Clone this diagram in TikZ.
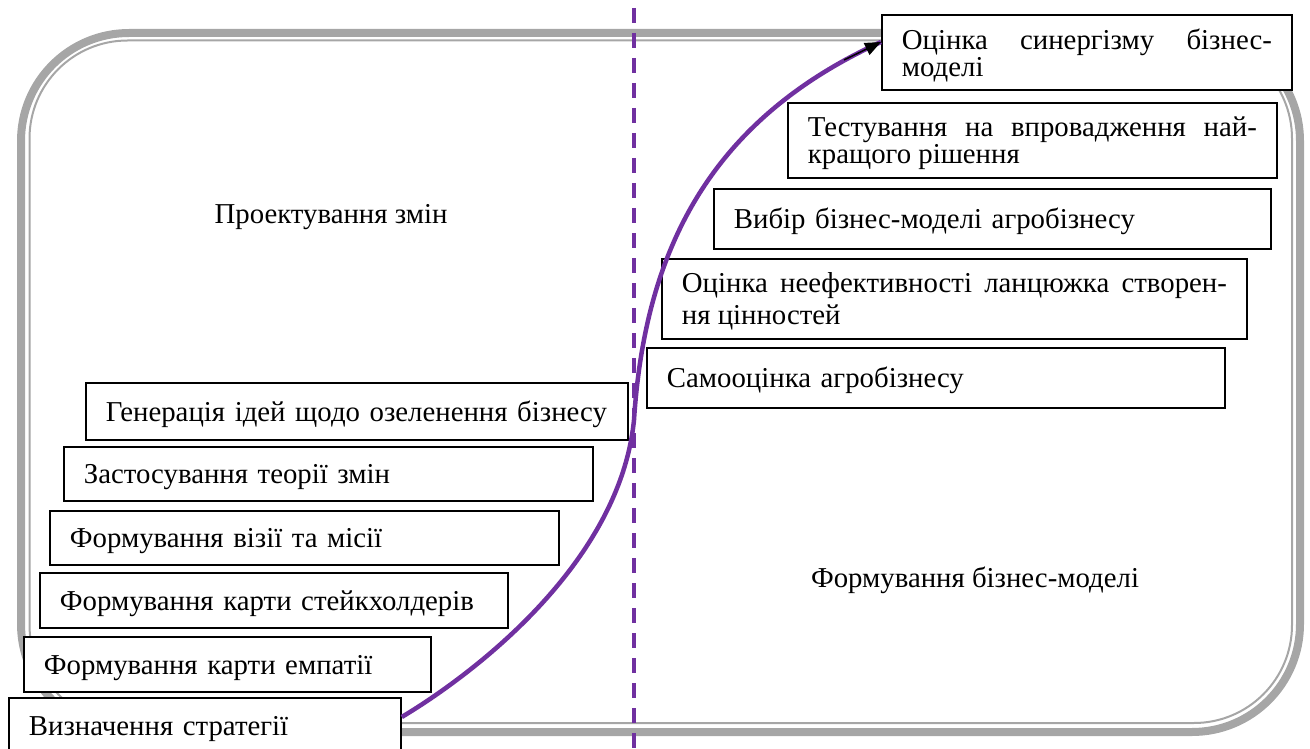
\documentclass[tikz,border=0pt]{standalone}
\usepackage{fontspec}
\setmainfont{Liberation Serif}
\usetikzlibrary{arrows.meta}
\definecolor{vio}{HTML}{7030A0}
\definecolor{frm}{HTML}{A6A6A6}
\begin{document}
\begin{tikzpicture}[x=1pt,y=-1pt,
  box/.style={draw=black, line width=1.8pt, fill=white, anchor=north west,
    inner xsep=20pt, inner ysep=0pt, text height=26pt, align=left,
    font=\fontsize{28.8pt}{27pt}\selectfont},
  jbox/.style={box, align=justify},
  lbl/.style={font=\fontsize{28.8pt}{27pt}\selectfont, inner sep=0pt, anchor=base},
  frameouter/.style={draw=frm, line width=8pt, rounded corners=108pt},
  frameinner/.style={draw=frm, line width=2pt, rounded corners=98pt},
  divider/.style={draw=vio, line width=4pt, dash pattern=on 15pt off 10pt},
  flow/.style={draw=vio, line width=4.5pt},
  tip/.style={draw=black, line width=1.5pt, -{Triangle[length=16pt,width=13pt]}}]
\useasboundingbox (0,0) rectangle (1310,749);
\clip (0,0) rectangle (1310,749);

% frame
\draw[frameouter] (21,33) rectangle (1300,732);
\draw[frameinner] (29.5,40.5) rectangle (1292,723);

% divider
\coordinate (dt) at (634,8);
\coordinate (db) at (634,760);
\draw[divider] (dt) -- (db);

% section labels
\node[lbl] (p1) at (331,223) {Проектування змін};
\node[lbl] (p2) at (975,587) {Формування бізнес-моделі};

% right boxes
\node[jbox, minimum height=75pt, text width=370pt] (b1) at (881,14)
  {Оцінка синергізму бізнес-\linebreak моделі};
\node[jbox, minimum height=75pt, text width=449pt] (b2) at (787,102)
  {Тестування на впровадження най-\linebreak кращого рішення};
\node[box, minimum height=60pt, text width=517pt] (b3) at (713,188)
  {\mbox{Вибір бізнес-моделі агробізнесу}};
\node[jbox, minimum height=80pt, text width=545pt, text height=24pt,
  font=\fontsize{28.8pt}{32pt}\selectfont] (b4) at (661,258)
  {Оцінка неефективності ланцюжка створен-\linebreak ня цінностей};
\node[box, minimum height=60pt, text width=538pt] (b5) at (646,347)
  {\mbox{Самооцінка агробізнесу}};

% left boxes
\node[box, minimum height=57pt, text width=502pt] (b6) at (85,382)
  {\mbox{Генерація ідей щодо озеленення бізнесу}};
\node[box, minimum height=54pt, text width=489pt] (b7) at (63,446)
  {\mbox{Застосування теорії змін}};
\node[box, minimum height=54pt, text width=469pt] (b8) at (49,510)
  {\mbox{Формування візії та місії}};
\node[box, minimum height=55pt, text width=428pt] (b9) at (39,572)
  {\mbox{Формування карти стейкхолдерів}};
\node[box, minimum height=55pt, text width=367pt] (b10) at (23,636)
  {\mbox{Формування карти емпатії}};
\node[box, minimum height=56pt, text width=352pt] (b11) at (8,697)
  {\mbox{Визначення стратегії}};

% flow curve
\coordinate (s) at ([yshift=-20pt]b11.north east);
\coordinate (e) at ([yshift=-28pt]b1.north west);
\coordinate (m) at (634,420);
\draw[flow] (s) .. controls (480,670) and (620,560) .. (m)
  .. controls (645,250) and (710,120) .. (e);
\coordinate (ta) at ([shift={(-37pt,-18pt)}]e);
\draw[tip] (ta) -- (e);
\end{tikzpicture}
\end{document}
